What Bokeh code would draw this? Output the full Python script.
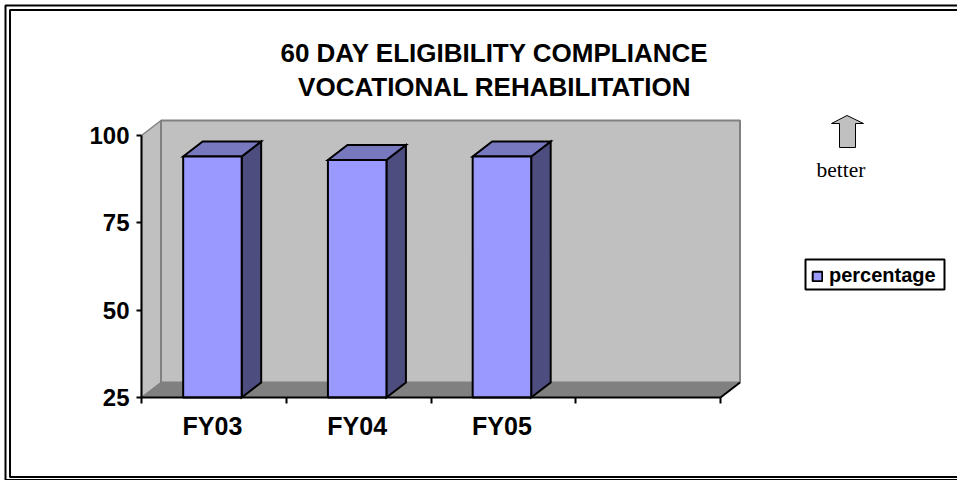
from bokeh.plotting import figure
from bokeh.models import (Range1d, LinearAxis, FixedTicker, Legend, LegendItem,
                          BoxAnnotation, Label)
from bokeh.embed import file_html
from bokeh.resources import INLINE

title_lines = ["60 DAY ELIGIBILITY COMPLIANCE", "VOCATIONAL REHABILITATION"]
categories = ["FY03", "FY04", "FY05"]
percentage = [94, 93, 94]
y_ticks = [25, 50, 75, 100]
series_name = "percentage"

W, H = 957, 480
X0, XU = 141, 144.75     # pixel of category edge 0, px per category
Y0, YU = 397, 262 / 75   # pixel of value 25, px per value unit

def dx(px): return px / XU
def dy(px): return px / YU

p = figure(width=W, height=H, output_backend="svg", toolbar_location=None,
           x_axis_type=None, y_axis_type=None,
           x_range=Range1d(-X0 / XU, (W - X0) / XU),
           y_range=Range1d(25 - (H - Y0) / YU, 25 + Y0 / YU),
           min_border=0, min_border_left=0, min_border_right=0, min_border_top=0, min_border_bottom=0,
           styles={"position": "absolute", "left": "0px", "top": "0px"})
p.outline_line_color = None
p.grid.visible = False

DX, DY = dx(19.5), dy(15)
n_cat = 4
ymin, ymax = y_ticks[0], y_ticks[-1]

# walls and floor
GRAY = "#C0C0C0"; DARK = "#808080"
p.patch([0, DX, DX, 0], [ymin, ymin + DY, ymax + DY, ymax], fill_color=GRAY, line_color=DARK, line_width=1.5)
p.patch([DX, n_cat + DX, n_cat + DX, DX], [ymin + DY, ymin + DY, ymax + DY, ymax + DY],
        fill_color=GRAY, line_color=DARK, line_width=2)
p.patch([0, DX, n_cat + DX, n_cat], [ymin, ymin + DY, ymin + DY, ymin], fill_color=DARK, line_color=DARK, line_width=1)
p.line([n_cat, n_cat + DX], [ymin, ymin + DY], line_color="black", line_width=2)

# bars
BW = 58.5 / XU
front = None
for i, v in enumerate(percentage):
    c = i + 0.49
    l, r = c - BW / 2, c + BW / 2
    p.patch([r, r + DX, r + DX, r], [ymin, ymin + DY, v + DY, v], fill_color="#4D4D80", line_color="black", line_width=2, line_join="miter")
    p.patch([l, l + DX, r + DX, r], [v, v + DY, v + DY, v], fill_color="#7878BF", line_color="black", line_width=2, line_join="miter")
    rr = p.quad(left=[l], right=[r], bottom=[ymin], top=[v], fill_color="#9999FF", line_color="black", line_width=2)
    if front is None:
        front = rr

# axes
yax = LinearAxis(fixed_location=0, ticker=FixedTicker(ticks=y_ticks), bounds=(ymin, ymax),
                 axis_line_color="black", axis_line_width=2, major_tick_line_color="black", major_tick_line_width=2,
                 major_tick_in=0, major_tick_out=5, minor_tick_line_color=None,
                 major_label_text_font="Liberation Sans", major_label_text_font_style="bold",
                 major_label_text_font_size="24px", major_label_text_color="black", major_label_standoff=7)
p.add_layout(yax, "left")

lab_ticks = [i + 0.49 for i in range(len(categories))]
xax = LinearAxis(fixed_location=ymin,
                 ticker=FixedTicker(ticks=lab_ticks, minor_ticks=list(range(n_cat + 1))), bounds=(0, n_cat),
                 major_label_overrides={t: c for t, c in zip(lab_ticks, categories)},
                 axis_line_color="black", axis_line_width=2,
                 major_tick_line_color=None, major_tick_in=0, major_tick_out=0,
                 minor_tick_line_color="black", minor_tick_line_width=2, minor_tick_in=0, minor_tick_out=6,
                 major_label_text_font="Liberation Sans", major_label_text_font_style="bold",
                 major_label_text_font_size="25px", major_label_text_color="black", major_label_standoff=8)
p.add_layout(xax, "below")

# title
for txt, yy in zip(title_lines, (52, 86)):
    p.add_layout(Label(x=494, y=H - yy, x_units="screen", y_units="screen", text=txt, text_align="center",
                       text_baseline="middle", text_font="Liberation Sans", text_font_style="bold",
                       text_font_size="26px", text_color="black"))

# better arrow
p.add_layout(Label(x=840.5, y=H - 169, x_units="screen", y_units="screen", text="better", text_align="center",
                   text_baseline="middle", text_font="Liberation Serif", text_font_size="21.5px", text_color="black"))
ax_ = lambda px: (px - X0) / XU
ay_ = lambda py: 25 + (Y0 - py) / YU
p.patch([ax_(q) for q in (846.5, 863, 855, 855, 839, 839, 831)],
        [ay_(q) for q in (115, 123, 123, 147, 147, 123, 123)],
        fill_color=GRAY, line_color="black", line_width=1, line_join="miter")

# legend frame plus borderless legend
p.add_layout(BoxAnnotation(left=805, right=944, top=H - 259, bottom=H - 289,
                           left_units="screen", right_units="screen", top_units="screen", bottom_units="screen",
                           fill_alpha=1, fill_color="white", line_color="black", line_alpha=1, line_width=2))
leg = Legend(items=[LegendItem(label=series_name, renderers=[front])], location=(811, H - 287),
             orientation="vertical", border_line_color=None, background_fill_alpha=0,
             label_text_font="Liberation Sans", label_text_font_style="bold",
             label_text_font_size="20px", label_text_color="black", glyph_width=12, glyph_height=12,
             label_standoff=6, padding=0, margin=0, spacing=0, label_height=20)
p.add_layout(leg, "center")

# double frame (outer runs past the right edge of the page)
for off_l, off_t, off_b in [(5, 5, 479.5), (9.5, 9.5, 476.5)]:
    p.add_layout(BoxAnnotation(left=off_l, right=W + 10, top=H - off_t, bottom=H - off_b,
                               left_units="screen", right_units="screen", top_units="screen", bottom_units="screen",
                               fill_alpha=0, fill_color=None, line_color="black", line_alpha=1, line_width=2))

open("out.html", "w").write(file_html(p, INLINE))
